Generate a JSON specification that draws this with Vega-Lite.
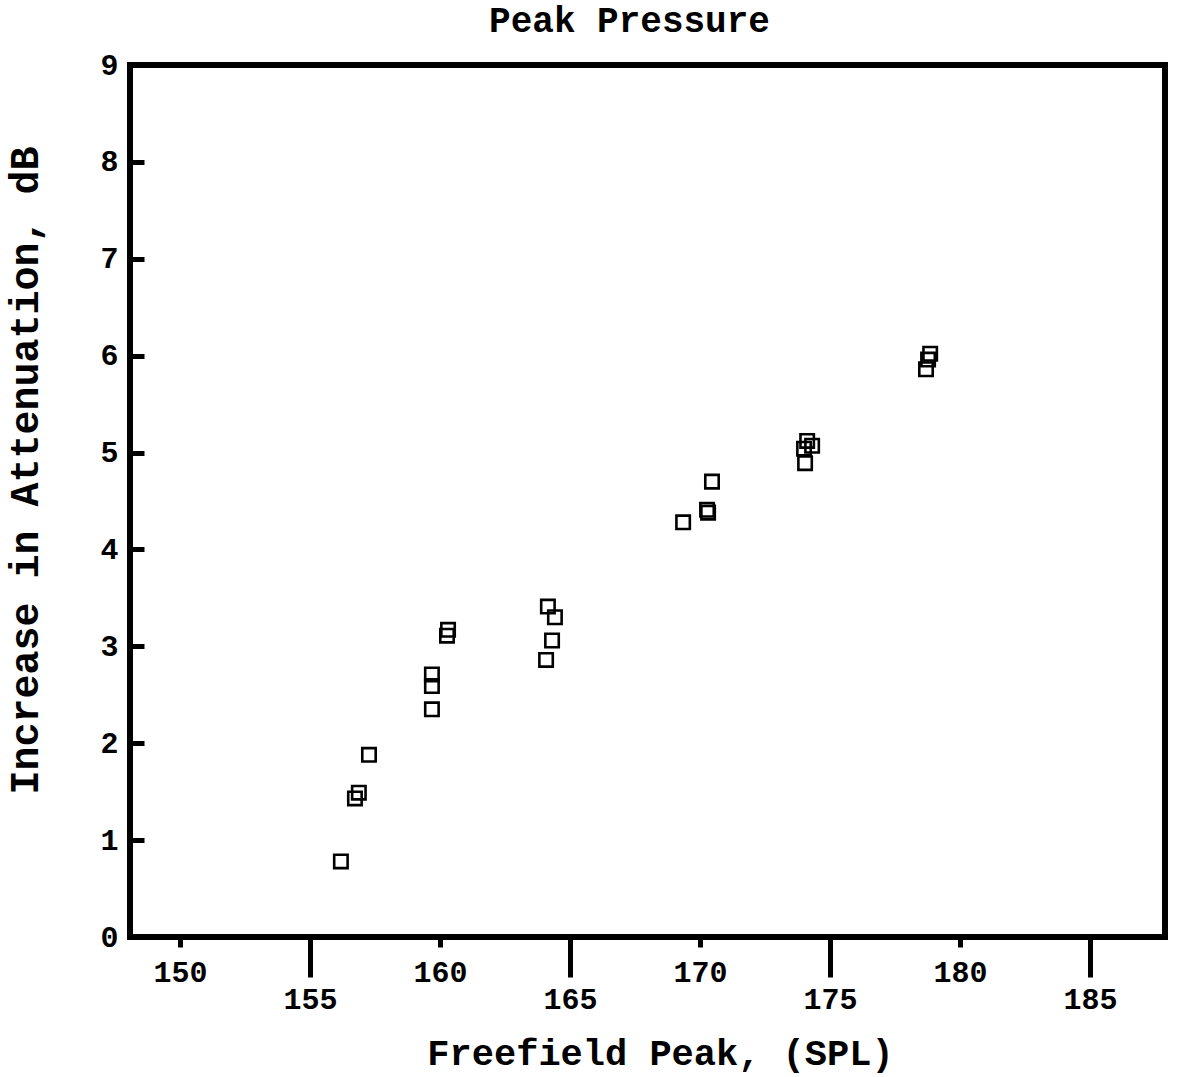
{
  "$schema": "https://vega.github.io/schema/vega-lite/v6.json",
  "autosize": "none",
  "width": 1035,
  "height": 872,
  "padding": {"left": 130, "top": 65, "right": 12, "bottom": 140},
  "background": "white",
  "title": {
    "text": "Peak Pressure",
    "font": "Liberation Mono",
    "fontSize": 36,
    "fontWeight": "bold",
    "color": "black",
    "anchor": "middle",
    "frame": "group",
    "baseline": "alphabetic",
    "offset": -18,
    "dx": -18
  },
  "config": {
    "view": {"stroke": "black", "strokeWidth": 6},
    "axis": {
      "grid": false,
      "domain": false,
      "tickColor": "black",
      "tickWidth": 5,
      "labelColor": "black",
      "labelFont": "Liberation Mono",
      "labelFontWeight": "bold",
      "labelFontSize": 30,
      "titleColor": "black",
      "titleFont": "Liberation Mono",
      "titleFontWeight": "bold"
    }
  },
  "data": {
    "values": [
      {"freefield_peak_spl": 156.19, "attenuation_increase_db": 0.78},
      {"freefield_peak_spl": 156.73, "attenuation_increase_db": 1.43},
      {"freefield_peak_spl": 156.88, "attenuation_increase_db": 1.49},
      {"freefield_peak_spl": 157.27, "attenuation_increase_db": 1.88},
      {"freefield_peak_spl": 160.27, "attenuation_increase_db": 3.11},
      {"freefield_peak_spl": 160.31, "attenuation_increase_db": 3.17},
      {"freefield_peak_spl": 159.69, "attenuation_increase_db": 2.71},
      {"freefield_peak_spl": 159.69, "attenuation_increase_db": 2.59},
      {"freefield_peak_spl": 159.69, "attenuation_increase_db": 2.35},
      {"freefield_peak_spl": 164.15, "attenuation_increase_db": 3.41},
      {"freefield_peak_spl": 164.42, "attenuation_increase_db": 3.30},
      {"freefield_peak_spl": 164.31, "attenuation_increase_db": 3.06},
      {"freefield_peak_spl": 164.08, "attenuation_increase_db": 2.86},
      {"freefield_peak_spl": 170.46, "attenuation_increase_db": 4.70},
      {"freefield_peak_spl": 170.27, "attenuation_increase_db": 4.41},
      {"freefield_peak_spl": 170.31, "attenuation_increase_db": 4.38},
      {"freefield_peak_spl": 169.35, "attenuation_increase_db": 4.28},
      {"freefield_peak_spl": 174.12, "attenuation_increase_db": 5.12},
      {"freefield_peak_spl": 174.31, "attenuation_increase_db": 5.07},
      {"freefield_peak_spl": 174.00, "attenuation_increase_db": 5.04},
      {"freefield_peak_spl": 174.04, "attenuation_increase_db": 4.89},
      {"freefield_peak_spl": 178.85, "attenuation_increase_db": 6.02},
      {"freefield_peak_spl": 178.77, "attenuation_increase_db": 5.96},
      {"freefield_peak_spl": 178.69, "attenuation_increase_db": 5.86}
    ]
  },
  "mark": {
    "type": "point",
    "shape": "square",
    "filled": false,
    "size": 180,
    "strokeWidth": 2.6,
    "color": "black",
    "opacity": 1
  },
  "encoding": {
    "x": {
      "field": "freefield_peak_spl",
      "type": "quantitative",
      "scale": {"domain": [148.08, 187.88], "nice": false, "zero": false},
      "axis": {
        "values": [150, 155, 160, 165, 170, 175, 180, 185],
        "format": "d",
        "title": "Freefield Peak, (SPL)",
        "titleFontSize": 37,
        "titleX": 530,
        "titleY": 116,
        "titleBaseline": "middle",
        "titleAlign": "center",
        "tickSize": {"condition": {"test": "datum.value % 10 == 5", "value": 40}, "value": 10},
        "labelPadding": {"condition": {"test": "datum.value % 10 == 5", "value": 7}, "value": 10}
      }
    },
    "y": {
      "field": "attenuation_increase_db",
      "type": "quantitative",
      "scale": {"domain": [0, 9], "nice": false},
      "axis": {
        "values": [0, 1, 2, 3, 4, 5, 6, 7, 8, 9],
        "format": "d",
        "title": "Increase in Attenuation, dB",
        "titleFontSize": 40,
        "titleAngle": 270,
        "titleX": -105,
        "titleY": 405,
        "titleBaseline": "middle",
        "titleAlign": "center",
        "tickSize": -14,
        "labelPadding": 26
      }
    }
  }
}
